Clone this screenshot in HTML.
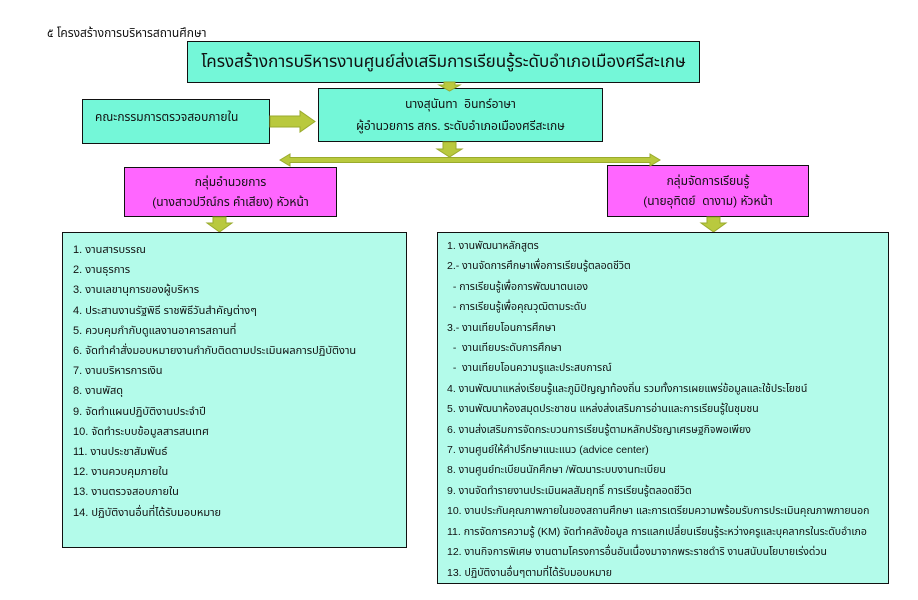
<!DOCTYPE html>
<html><head><meta charset="utf-8"><style>
body{margin:0;width:918px;height:600px;background:#fff;position:relative;overflow:hidden;font-family:"Liberation Sans","Noto Sans Thai","Tahoma",sans-serif;color:#111}
.b{position:absolute;box-sizing:border-box;border:1.5px solid #111}
.c{display:flex;flex-direction:column;align-items:center;justify-content:center;text-align:center}
.t{position:absolute;font-size:11px;white-space:nowrap}
svg{position:absolute;left:0;top:0}
</style></head><body>
<div class="t" style="left:47px;top:25px;font-size:12px">๕ โครงสร้างการบริหารสถานศึกษา</div>
<div class="b c" style="left:187px;top:41px;width:513px;height:42px;background:#74f7d8;font-size:17px">โครงสร้างการบริหารงานศูนย์ส่งเสริมการเรียนรู้ระดับอำเภอเมืองศรีสะเกษ</div>
<div class="b c" style="left:318px;top:88px;width:285px;height:54px;background:#74f7d8;font-size:12px;line-height:22px">นางสุนันทา&nbsp; อินทร์อาษา<br>ผู้อำนวยการ สกร. ระดับอำเภอเมืองศรีสะเกษ</div>
<div class="b" style="left:82px;top:99px;width:188px;height:45px;background:#74f7d8;font-size:12px;padding:9px 0 0 12px">คณะกรรมการตรวจสอบภายใน</div>
<div class="b c" style="left:124px;top:167px;width:213px;height:50px;background:#ff66ff;font-size:12px;line-height:20px">กลุ่มอำนวยการ<br>(นางสาวปวีณ์กร คำเสียง) หัวหน้า</div>
<div class="b c" style="left:607px;top:165px;width:202px;height:52px;background:#ff66ff;font-size:12px;line-height:20px">กลุ่มจัดการเรียนรู้<br>(นายอุทิตย์&nbsp; ดางาม) หัวหน้า</div>
<svg width="918" height="600">
<g fill="#b9c93e" stroke="#9aab2c" stroke-width="1">
<polygon points="444,82 455,82 455,85 460,85 449.5,91 439,85 444,85"/>
<polygon points="443,142 456,142 456,149 462,149 449.5,157 437,149 443,149"/>
<polygon points="270,116 300,116 300,111 315,121.5 300,132 300,127 270,127"/>
<polygon points="280,160 290,154 290,157.5 650,157.5 650,154 660,160 650,166 650,162.5 290,162.5 290,166"/>
<polygon points="213,217 226,217 226,223 232,223 219.5,232 207,223 213,223"/>
<polygon points="707,217 720,217 720,223 726,223 713.5,232 701,223 707,223"/>
</g>
</svg>
<div class="b" style="left:62px;top:232px;width:345px;height:316px;background:#b3fbea;font-size:11px;line-height:20.2px;padding:7px 0 0 10px;white-space:nowrap">
1. งานสารบรรณ<br>2. งานธุรการ<br>3. งานเลขานุการของผู้บริหาร<br>4. ประสานงานรัฐพิธี ราชพิธีวันสำคัญต่างๆ<br>5. ควบคุมกำกับดูแลงานอาคารสถานที่<br>6. จัดทำคำสั่งมอบหมายงานกำกับติดตามประเมินผลการปฏิบัติงาน<br>7. งานบริหารการเงิน<br>8. งานพัสดุ<br>9. จัดทำแผนปฏิบัติงานประจำปี<br>10. จัดทำระบบข้อมูลสารสนเทศ<br>11. งานประชาสัมพันธ์<br>12. งานควบคุมภายใน<br>13. งานตรวจสอบภายใน<br>14. ปฏิบัติงานอื่นที่ได้รับมอบหมาย</div>
<div class="b" style="left:437px;top:232px;width:452px;height:352px;background:#b3fbea;font-size:10.5px;line-height:20.4px;padding:3px 0 0 9px;white-space:nowrap">
1. งานพัฒนาหลักสูตร<br>2.- งานจัดการศึกษาเพื่อการเรียนรู้ตลอดชีวิต<br>&nbsp; - การเรียนรู้เพื่อการพัฒนาตนเอง<br>&nbsp; - การเรียนรู้เพื่อคุณวุฒิตามระดับ<br>3.- งานเทียบโอนการศึกษา<br>&nbsp; -&nbsp; งานเทียบระดับการศึกษา<br>&nbsp; -&nbsp; งานเทียบโอนความรูและประสบการณ์<br>4. งานพัฒนาแหล่งเรียนรู้และภูมิปัญญาท้องถิ่น รวมทั้งการเผยแพร่ข้อมูลและใช้ประโยชน์<br>5. งานพัฒนาห้องสมุดประชาชน แหล่งส่งเสริมการอ่านและการเรียนรู้ในชุมชน<br>6. งานส่งเสริมการจัดกระบวนการเรียนรู้ตามหลักปรัชญาเศรษฐกิจพอเพียง<br>7. งานศูนย์ให้คำปรึกษาแนะแนว (advice center)<br>8. งานศูนย์ทะเบียนนักศึกษา /พัฒนาระบบงานทะเบียน<br>9. งานจัดทำรายงานประเมินผลสัมฤทธิ์ การเรียนรู้ตลอดชีวิต<br>10. งานประกันคุณภาพภายในของสถานศึกษา และการเตรียมความพร้อมรับการประเมินคุณภาพภายนอก<br>11. การจัดการความรู้ (KM) จัดทำคลังข้อมูล การแลกเปลี่ยนเรียนรู้ระหว่างครูและบุคลากรในระดับอำเภอ<br>12. งานกิจการพิเศษ งานตามโครงการอื่นอันเนื่องมาจากพระราชดำริ งานสนับนโยบายเร่งด่วน<br>13. ปฏิบัติงานอื่นๆตามที่ได้รับมอบหมาย</div>
</body></html>
